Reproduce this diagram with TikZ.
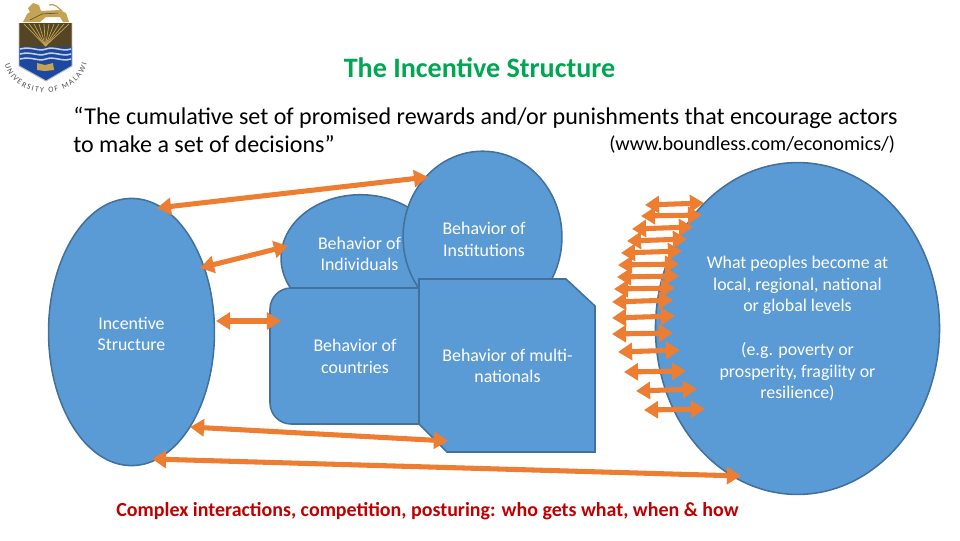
\documentclass[tikz,border=0pt]{standalone}
\usepackage{fontspec}
\setmainfont{Carlito}
\usetikzlibrary{arrows.meta,shapes.geometric,decorations.text}
\definecolor{shapeblue}{RGB}{91,155,213}
\definecolor{shapeline}{RGB}{65,113,156}
\definecolor{linkorange}{RGB}{237,125,49}
\definecolor{titlegreen}{RGB}{0,166,81}
\definecolor{alertred}{RGB}{192,0,0}
\definecolor{crestgold}{RGB}{196,164,84}
\definecolor{crestdark}{RGB}{84,70,36}
\definecolor{crestblue}{RGB}{28,72,160}
\tikzset{
 blob/.style={ellipse,draw=shapeline,fill=shapeblue,line width=1.1pt,inner sep=0pt},
 blobtext/.style={text=white,align=center,font=\fontsize{12.7}{15.2}\selectfont},
 link/.style={draw=linkorange,line width=3.6pt,{Triangle[length=10pt,width=12pt]}-{Triangle[length=10pt,width=12pt]}},
 fanlink/.style={link,line width=3.6pt},
}
\begin{document}
\begin{tikzpicture}[x=0.025cm,y=-0.025cm]
 \useasboundingbox (0,0) rectangle (960,540);
 % crest
 \fill[crestgold] (23,22)--(27,14)--(30,12)--(28,8)--(33,3)--(39,5)--(41,11)--(60,10)--(66,13)--(69,22)--(63,22)--(60,17)--(46,17)--(40,22)--cycle;
 \draw[crestgold,line width=0.9pt] (62,11) .. controls (58,8) and (55,3) .. (49,5);
 \draw[crestdark,line width=0.4pt] (30,20)--(42,14)--(58,13);
 \fill[crestdark] (19,23)--(72,23)--(72,47)--(19,47)--cycle;
 \foreach \x in {24,29,...,69}
   \draw[crestgold,line width=0.5pt] (\x,24)--(45.5,46);
 \fill[crestblue] (19,47)--(72,47)--(72,66)--(46,81)--(19,66)--cycle;
 \foreach \y in {49,54,59}
   \draw[white!75!crestblue,line width=1.1pt] (20,\y) .. controls (32,\y-3) and (38,\y+3) .. (46,\y) .. controls (54,\y-3) and (62,\y+3) .. (71,\y);
 \draw[black!25,line width=0.7pt] (19,23)--(19,66)--(46,81)--(72,66)--(72,23);
 \fill[crestgold] (37,63)--(45,65)--(53,63)--(54,70)--(45,71)--(37,70)--cycle;
 \path[postaction={decorate,decoration={text along path,text align=fit to path,
   text={|\fontsize{5.6}{6}\selectfont\color{black!70}|UNIVERSITY OF MALAWI}}}]
   (5,64) .. controls (14,102) and (76,102) .. (87,64);
 % title and quotation
 \node[font=\fontsize{20}{22}\selectfont\bfseries,text=titlegreen,inner sep=0pt] (title) at (479.5,68) {The Incentive Structure};
 \node[anchor=west,inner sep=0pt,font=\fontsize{17.1}{19}\selectfont] (quote1) at (73,118) {“The cumulative set of promised rewards and/or punishments that encourage actors};
 \node[anchor=west,inner sep=0pt,font=\fontsize{17.1}{19}\selectfont] (quote2) at (73,144) {to make a set of decisions”};
 \node[anchor=west,inner sep=0pt,font=\fontsize{14.35}{16}\selectfont] (source) at (609,145) {(www.boundless.com/economics/)};
 % shapes
 \node[blob,minimum width=118pt,minimum height=190pt] (incentive) at (131.5,332) {};
 \node[blob,minimum width=202pt,minimum height=236pt] (outcome) at (797.5,328.5) {};
 \node[blob,minimum width=113pt,minimum height=90pt] (individuals) at (360.5,258) {};
 \node[blob,minimum width=113pt,minimum height=122pt] (institutions) at (482.5,237) {};
 \draw[draw=shapeline,fill=shapeblue,line width=1.1pt,rounded corners=15pt] (270,288) rectangle (450,424);
 \draw[draw=shapeline,fill=shapeblue,line width=1.1pt] (419,279)--(566,279)--(595,306)--(595,452)--(447,452)--(419,424)--cycle;
 % labels
 \node[blobtext] (incentivetext) at (131.5,334) {Incentive\\Structure};
 \node[blobtext] (individualstext) at (359.5,254) {Behavior of\\Individuals};
 \node[blobtext] (institutionstext) at (484,239.5) {Behavior of\\Institutions};
 \node[blobtext] (countriestext) at (355,356.5) {Behavior of\\countries};
 \node[blobtext] (multitext) at (507.5,366) {Behavior of multi-\\nationals};
 \node[blobtext] (outcometext1) at (797.5,285.5) {What peoples become at\\local, regional, national\\or global levels};
 \node[blobtext] (outcometext2) at (797.5,372) {(e.g. poverty or\\prosperity, fragility or\\resilience)};
 % links
 \coordinate (topa) at (157,208);
 \coordinate (topb) at (428,177);
 \coordinate (inda) at (200,268);
 \coordinate (indb) at (288,246);
 \coordinate (couna) at (216,321);
 \coordinate (counb) at (281,321);
 \coordinate (multa) at (190,427);
 \coordinate (multb) at (448,441);
 \coordinate (longa) at (152,459);
 \coordinate (longb) at (741,476);
 \draw[link] (topa)--(topb);
 \draw[link] (inda)--(indb);
 \draw[link] (couna)--(counb);
 \draw[link] (multa)--(multb);
 \draw[link] (longa)--(longb);
 \foreach \i/\xa/\ya/\xb/\yb in {1/645/205/704/203,2/641/216/702/215,3/632/229/693/227,4/627/241/687/239,5/621/253/682/251,6/618/265/679/264,7/617/277/679/276,8/614/289/675/288,9/612/302/673/300,10/612/318/675/316,11/612/334/673/333,12/618/352/680/350,13/624/372/686/371,14/636/391/697/389,15/644/410/705/409}{
   \coordinate (fana\i) at (\xa,\ya);
   \coordinate (fanb\i) at (\xb,\yb);
   \draw[fanlink] (fana\i)--(fanb\i);
 }
 \node[font=\fontsize{14.2}{16}\selectfont\bfseries,text=alertred,inner sep=0pt] (footer) at (427.5,511.5) {Complex interactions, competition, posturing: who gets what, when \& how};
\end{tikzpicture}
\end{document}
